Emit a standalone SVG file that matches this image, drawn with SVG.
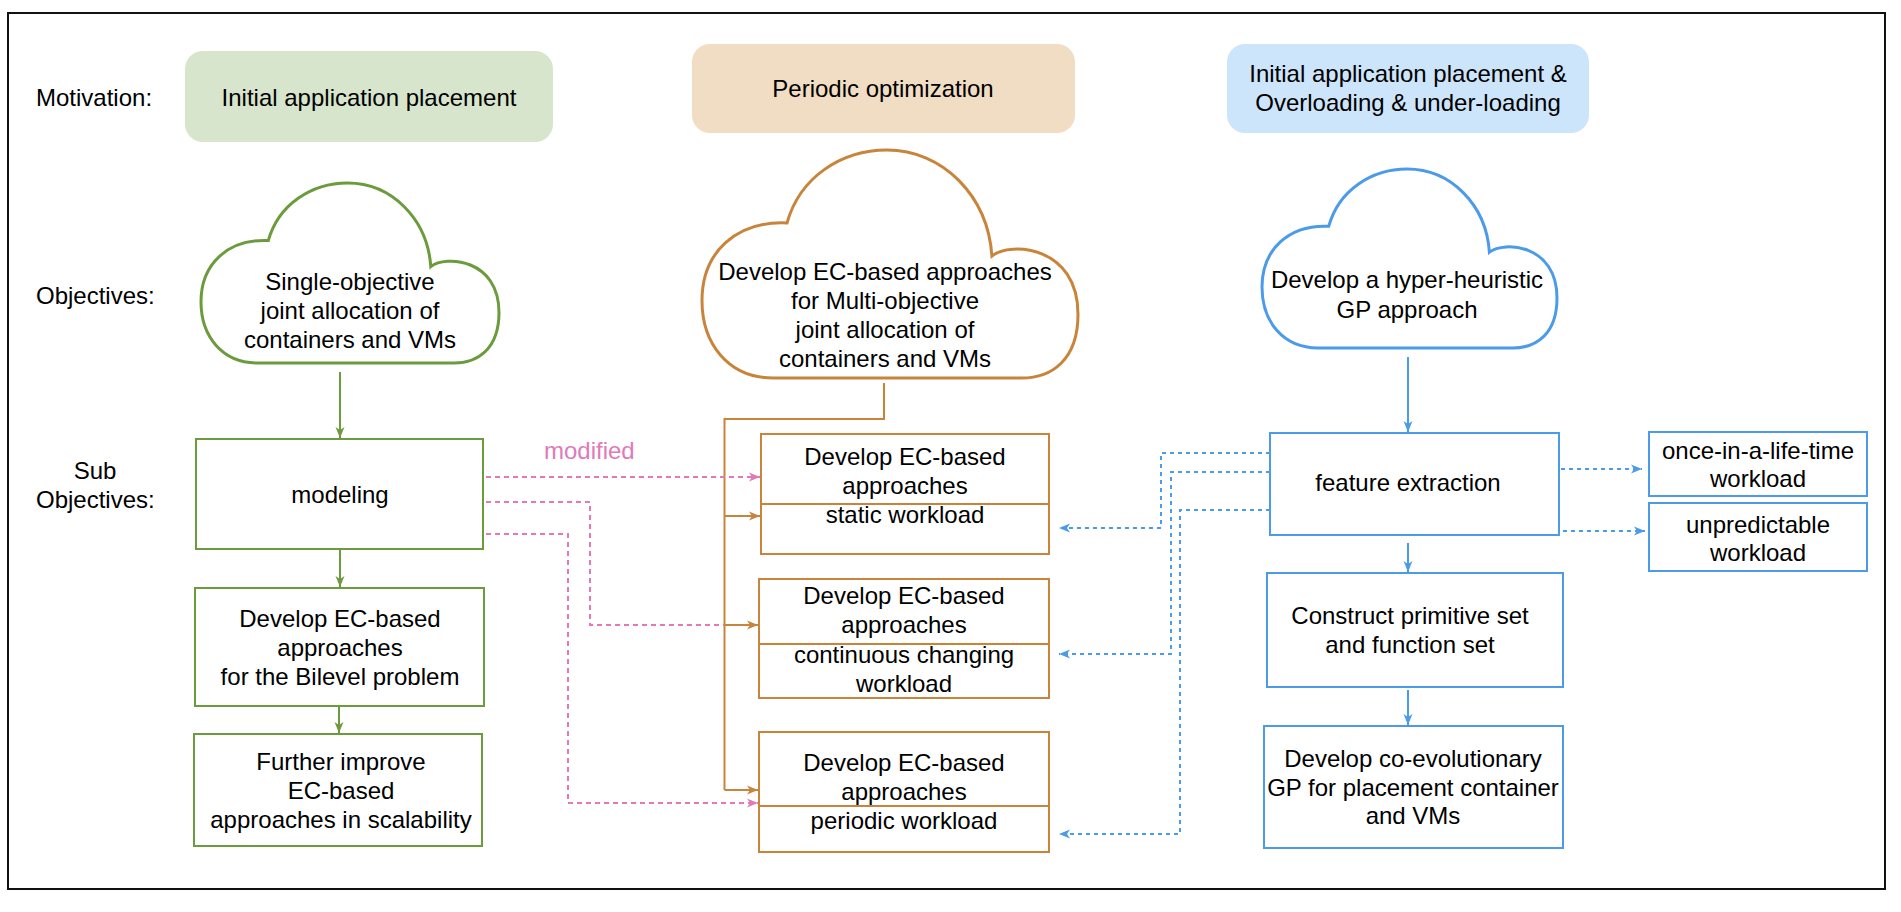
<svg xmlns="http://www.w3.org/2000/svg" width="1901" height="912" viewBox="0 0 1901 912">
<style>
text{font-family:"Liberation Sans",Arial,Helvetica,sans-serif;font-size:24px;fill:#000}
.c{text-anchor:middle}
.g{fill:#fff;stroke:#6C9B3E;stroke-width:2}
.o{fill:#fff;stroke:#C9843B;stroke-width:2}
.b{fill:#fff;stroke:#4C9BEA;stroke-width:2}
.cg{fill:#fff;stroke:#6C9B3E;stroke-width:3}
.co{fill:#fff;stroke:#C9843B;stroke-width:3}
.cb{fill:#fff;stroke:#4C9BEA;stroke-width:3}
.lg{fill:none;stroke:#6C9B3E;stroke-width:2}
.lo{fill:none;stroke:#C9843B;stroke-width:2}
.lb{fill:none;stroke:#4C9BEA;stroke-width:2}
.db{fill:none;stroke:#4C9BEA;stroke-width:2;stroke-dasharray:4 4}
.dp{fill:none;stroke:#E07AB8;stroke-width:2;stroke-dasharray:5 4}
</style>
<defs>
<marker id="ag" markerUnits="userSpaceOnUse" markerWidth="12" markerHeight="10" refX="11" refY="5" orient="auto"><path d="M0,0.5 L11,5 L0,9.5 L3,5 Z" fill="#6C9B3E"/></marker>
<marker id="ao" markerUnits="userSpaceOnUse" markerWidth="12" markerHeight="10" refX="11" refY="5" orient="auto"><path d="M0,0.5 L11,5 L0,9.5 L3,5 Z" fill="#C9843B"/></marker>
<marker id="ab" markerUnits="userSpaceOnUse" markerWidth="12" markerHeight="10" refX="11" refY="5" orient="auto"><path d="M0,0.5 L11,5 L0,9.5 L3,5 Z" fill="#4C9BEA"/></marker>
<marker id="ap" markerUnits="userSpaceOnUse" markerWidth="12" markerHeight="10" refX="11" refY="5" orient="auto"><path d="M0,0.5 L11,5 L0,9.5 L3,5 Z" fill="#E07AB8"/></marker>
</defs>
<rect width="1901" height="912" fill="#fff"/>
<rect id="frame" x="8" y="13" width="1877" height="876" fill="none" stroke="#111" stroke-width="2"/>

<g id="row-labels">
<text x="36" y="106">Motivation:</text>
<text x="36" y="304">Objectives:</text>
<text x="95" y="479" class="c">Sub</text>
<text x="36" y="508">Objectives:</text>
</g>

<g id="motivation-initial">
<rect x="185" y="51" width="368" height="91" rx="18" fill="#D6E5CB"/>
<text x="369" y="106" class="c">Initial application placement</text>
</g>
<g id="motivation-periodic">
<rect x="692" y="44" width="383" height="89" rx="18" fill="#F0DDC4"/>
<text x="883" y="97" class="c">Periodic optimization</text>
</g>
<g id="motivation-overloading">
<rect x="1227" y="44" width="362" height="89" rx="18" fill="#CDE5FA"/>
<text x="1408" y="82" class="c">Initial application placement &amp;</text>
<text x="1408" y="111" class="c">Overloading &amp; under-loading</text>
</g>

<g id="cloud-single">
<path class="cg" d="M 268.3,240.6 C 278.5,204.6 311.3,183 347.6,183 C 391.7,183 427.5,219 430.8,266.7 C 445.4,255 499,258.6 499,312.6 C 499,348.6 478.1,363 454.3,363 L 257.6,363 C 221.9,363 201,336 201,301.8 C 201,264 227.8,238.8 268.3,240.6 Z"/>
<text x="350" y="290" class="c">Single-objective</text>
<text x="350" y="319" class="c">joint allocation of</text>
<text x="350" y="348" class="c">containers and VMs</text>
</g>
<g id="cloud-multi">
<path class="co" d="M 787,223 C 799.8,177.4 841.1,150 887,150 C 942.6,150 987.8,195.6 991.9,256 C 1010.3,241.2 1078,245.8 1078,314.2 C 1078,359.8 1051.7,378 1021.6,378 L 773.4,378 C 728.3,378 702,343.8 702,300.5 C 702,252.6 735.8,220.7 787,223 Z"/>
<text x="885" y="280" class="c">Develop EC-based approaches</text>
<text x="885" y="309" class="c">for Multi-objective</text>
<text x="885" y="338" class="c">joint allocation of</text>
<text x="885" y="367" class="c">containers and VMs</text>
</g>
<g id="cloud-gp">
<path class="cb" d="M 1328.7,226.3 C 1338.7,190.5 1371.2,169 1407.1,169 C 1450.8,169 1486.2,204.8 1489.4,252.2 C 1503.9,240.6 1557,244.2 1557,297.9 C 1557,333.7 1536.4,348 1512.8,348 L 1318.1,348 C 1282.7,348 1262,321.2 1262,287.1 C 1262,249.6 1288.6,224.5 1328.7,226.3 Z"/>
<text x="1407" y="288" class="c">Develop a hyper-heuristic</text>
<text x="1407" y="318" class="c">GP approach</text>
</g>

<g id="modeling">
<rect class="g" x="196" y="439" width="287" height="110"/>
<text x="340" y="503" class="c">modeling</text>
</g>
<g id="bilevel">
<rect class="g" x="195" y="588" width="289" height="118"/>
<text x="340" y="627" class="c">Develop EC-based</text>
<text x="340" y="656" class="c">approaches</text>
<text x="340" y="685" class="c">for the Bilevel problem</text>
</g>
<g id="scalability">
<rect class="g" x="194" y="734" width="288" height="112"/>
<text x="341" y="770" class="c">Further improve</text>
<text x="341" y="799" class="c">EC-based</text>
<text x="341" y="828" class="c">approaches in scalability</text>
</g>

<g id="static">
<rect class="o" x="761" y="434" width="288" height="120"/>
<line class="o" x1="761" y1="504" x2="1049" y2="504"/>
<text x="905" y="465" class="c">Develop EC-based</text>
<text x="905" y="494" class="c">approaches</text>
<text x="905" y="523" class="c">static workload</text>
</g>
<g id="continuous">
<rect class="o" x="759" y="579" width="290" height="119"/>
<line class="o" x1="759" y1="644" x2="1049" y2="644"/>
<text x="904" y="604" class="c">Develop EC-based</text>
<text x="904" y="633" class="c">approaches</text>
<text x="904" y="663" class="c">continuous changing</text>
<text x="904" y="692" class="c">workload</text>
</g>
<g id="periodic">
<rect class="o" x="759" y="732" width="290" height="120"/>
<line class="o" x1="759" y1="806" x2="1049" y2="806"/>
<text x="904" y="771" class="c">Develop EC-based</text>
<text x="904" y="800" class="c">approaches</text>
<text x="904" y="829" class="c">periodic workload</text>
</g>

<g id="feature">
<rect class="b" x="1270" y="433" width="289" height="102"/>
<text x="1408" y="491" class="c">feature extraction</text>
</g>
<g id="construct">
<rect class="b" x="1267" y="573" width="296" height="114"/>
<text x="1410" y="624" class="c">Construct primitive set</text>
<text x="1410" y="653" class="c">and function set</text>
</g>
<g id="coevo">
<rect class="b" x="1264" y="726" width="299" height="122"/>
<text x="1413" y="767" class="c">Develop co-evolutionary</text>
<text x="1413" y="796" class="c">GP for placement container</text>
<text x="1413" y="824" class="c">and VMs</text>
</g>
<g id="once">
<rect class="b" x="1649" y="432" width="218" height="64"/>
<text x="1758" y="459" class="c">once-in-a-life-time</text>
<text x="1758" y="487" class="c">workload</text>
</g>
<g id="unpredictable">
<rect class="b" x="1649" y="503" width="218" height="68"/>
<text x="1758" y="533" class="c">unpredictable</text>
<text x="1758" y="561" class="c">workload</text>
</g>

<g id="connectors">
<line class="lg" x1="340" y1="372" x2="340" y2="438" marker-end="url(#ag)"/>
<line class="lg" x1="340" y1="549" x2="340" y2="587" marker-end="url(#ag)"/>
<line class="lg" x1="339" y1="706" x2="339" y2="733" marker-end="url(#ag)"/>

<path class="lo" d="M 884,383 L 884,419 L 724.5,419 L 724.5,790"/>
<line class="lo" x1="724.5" y1="516" x2="760" y2="516" marker-end="url(#ao)"/>
<line class="lo" x1="724.5" y1="625" x2="758" y2="625" marker-end="url(#ao)"/>
<line class="lo" x1="724.5" y1="790" x2="758" y2="790" marker-end="url(#ao)"/>

<path class="dp" d="M 486,477 L 760,477" marker-end="url(#ap)"/>
<path class="dp" d="M 486,502 L 590,502 L 590,625 L 724,625"/>
<path class="dp" d="M 486,534 L 568,534 L 568,803 L 758,803" marker-end="url(#ap)"/>
<text x="544" y="459" style="fill:#E07AB8">modified</text>

<path class="db" d="M 1270,453 L 1161,453 L 1161,528 L 1059,528" marker-end="url(#ab)"/>
<path class="db" d="M 1270,472 L 1171,472 L 1171,654 L 1059,654" marker-end="url(#ab)"/>
<path class="db" d="M 1270,510 L 1180,510 L 1180,834 L 1059,834" marker-end="url(#ab)"/>

<line class="lb" x1="1408" y1="357" x2="1408" y2="432" marker-end="url(#ab)"/>
<line class="lb" x1="1408" y1="543" x2="1408" y2="572" marker-end="url(#ab)"/>
<line class="lb" x1="1408" y1="690" x2="1408" y2="725" marker-end="url(#ab)"/>
<path class="db" d="M 1561,469 L 1642,469" marker-end="url(#ab)"/>
<path class="db" d="M 1563,531 L 1645,531" marker-end="url(#ab)"/>
</g>
</svg>
